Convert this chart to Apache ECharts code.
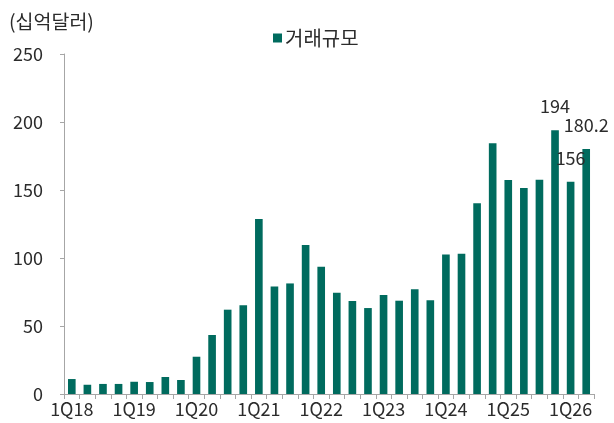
<!DOCTYPE html>
<html>
<head>
<meta charset="utf-8">
<script src="https://cdn.jsdelivr.net/npm/echarts@6/dist/echarts.min.js"></script>
<style>
html,body{margin:0;padding:0;background:#fff;}
#c{width:614px;height:423px;}
</style>
</head>
<body>
<div id="c"></div>
<script>
var categories = ['1Q18','2Q18','3Q18','4Q18','1Q19','2Q19','3Q19','4Q19',
  '1Q20','2Q20','3Q20','4Q20','1Q21','2Q21','3Q21','4Q21',
  '1Q22','2Q22','3Q22','4Q22','1Q23','2Q23','3Q23','4Q23',
  '1Q24','2Q24','3Q24','4Q24','1Q25','2Q25','3Q25','4Q25',
  '1Q26','2Q26'];
var volume = [11, 6.8, 7.4, 7.4, 9, 8.8, 12.5, 10.3,
  27.4, 43.4, 62, 65.2, 128.7, 79.1, 81.3, 109.5,
  93.5, 74.5, 68.4, 63.2, 72.8, 68.6, 77, 69,
  102.6, 103.1, 140.3, 184.4, 157.3, 151.4, 157.6, 194,
  156, 180.2];
var labeledIdx = [31, 32, 33];
var seriesName = '거래규모';
var unitLabel = '(십억달러)';

var FONT = '"Noto Sans CJK KR", "Noto Sans", sans-serif';
var TXT = '#2b2b2b';
var BAR = '#006B5E';

var barData = volume.map(function(v, i){
  if (labeledIdx.indexOf(i) >= 0) {
    return {value: v, label: {show: true, position: 'top', distance: 15,
      fontSize: 18, color: TXT, fontFamily: FONT,
      formatter: function(p){ return String(p.value); }}};
  }
  return v;
});

var chart = echarts.init(document.getElementById('c'), null, {renderer: 'canvas'});
chart.setOption({
  animation: false,
  backgroundColor: '#ffffff',
  textStyle: {fontFamily: FONT},
  title: {
    text: unitLabel, left: 4, top: 7,
    textStyle: {fontSize: 19.5, fontWeight: 'normal', color: TXT, fontFamily: FONT}
  },
  legend: {
    data: [seriesName], left: 268, top: 23,
    icon: 'rect', itemWidth: 9, itemHeight: 9, itemGap: 3,
    textStyle: {fontSize: 20, color: TXT, fontFamily: FONT, padding: [0,0,0,-2]}
  },
  grid: {left: 64, right: 20, top: 54, bottom: 29, containLabel: false},
  xAxis: {
    type: 'category', data: categories, boundaryGap: true,
    axisLine: {lineStyle: {color: '#a6a6a6', width: 1}},
    axisTick: {show: true, interval: 0, length: 5, lineStyle: {color: '#a6a6a6'}},
    axisLabel: {interval: 3, fontSize: 18, color: TXT, fontFamily: FONT, margin: 6}
  },
  yAxis: {
    type: 'value', min: 0, max: 250, interval: 50,
    axisLine: {show: true, lineStyle: {color: '#a6a6a6', width: 1}},
    axisTick: {show: true, length: 4, lineStyle: {color: '#a6a6a6'}},
    splitLine: {show: false},
    axisLabel: {fontSize: 18, color: TXT, fontFamily: FONT, margin: 21}
  },
  series: [{
    name: seriesName, type: 'bar', data: barData,
    barWidth: '49%',
    itemStyle: {color: BAR}
  }]
});
</script>
</body>
</html>
